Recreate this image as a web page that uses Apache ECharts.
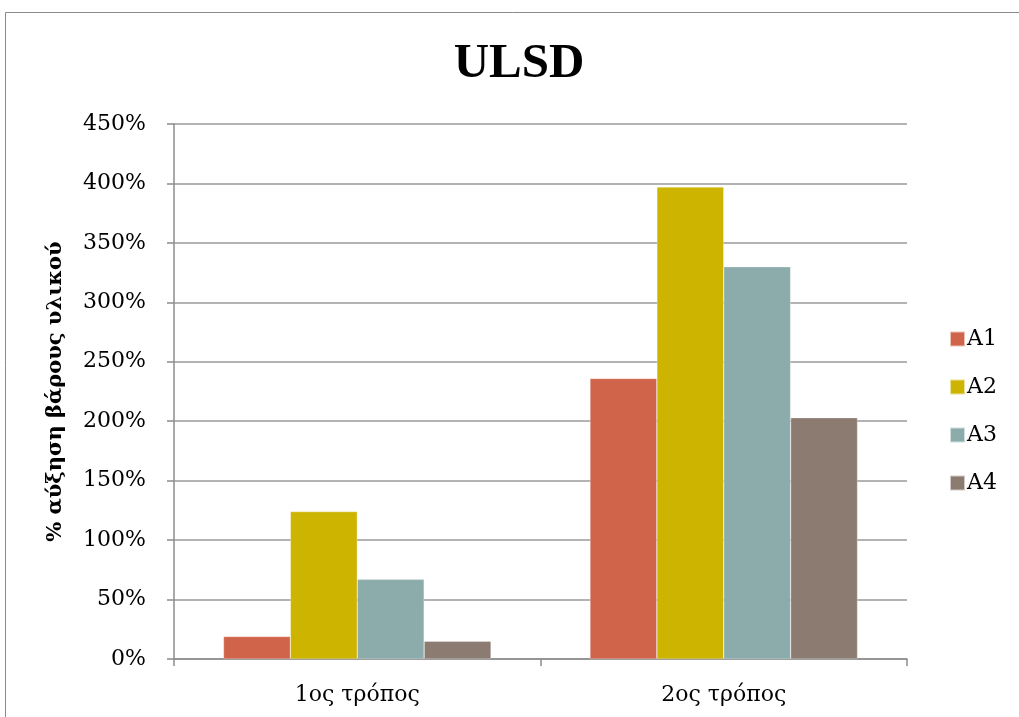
<!DOCTYPE html>
<html>
<head>
<meta charset="utf-8">
<script src="https://cdn.jsdelivr.net/npm/echarts@6/dist/echarts.min.js"></script>
<style>
  html, body { margin: 0; padding: 0; background: #fff; }
  #chart { width: 1019px; height: 717px; }
</style>
</head>
<body>
<div id="chart"></div>
<script>
// Weight increase of the material (%) for each sample, per method
const categories = ['1ος τρόπος', '2ος τρόπος'];
const seriesNames = ['A1', 'A2', 'A3', 'A4'];
const valuesA1 = [19, 236];
const valuesA2 = [124, 397];
const valuesA3 = [67, 330];
const valuesA4 = [15, 203];
const yTicks = [0, 50, 100, 150, 200, 250, 300, 350, 400, 450];

const colors = ['#D0644A', '#CDB400', '#8CACAC', '#8C7B70'];
const serif = 'DejaVu Serif';
const seriesValues = [valuesA1, valuesA2, valuesA3, valuesA4];

const chart = echarts.init(document.getElementById('chart'));
chart.setOption({
  animation: false,
  color: colors,
  graphic: [{
    type: 'rect',
    shape: { x: 5.5, y: 12.5, width: 1100, height: 800 },
    style: { fill: 'none', stroke: '#8a8a8a', lineWidth: 1 },
    silent: true
  }, {
    // chart title, centred over the plot
    type: 'text',
    x: 519,
    y: 64,
    style: {
      text: 'ULSD',
      textAlign: 'center',
      textVerticalAlign: 'middle',
      fill: '#000',
      font: 'bold 49px "Liberation Serif"'
    }
  }],
  legend: {
    orient: 'vertical',
    left: 949,
    top: 328,
    padding: 0,
    itemWidth: 15,
    itemHeight: 15,
    itemGap: 26,
    icon: 'rect',
    data: seriesNames,
    textStyle: { fontFamily: serif, fontSize: 22, lineHeight: 20, color: '#000', padding: [0, 0, 0, -3] }
  },
  grid: { left: 174, right: 112, top: 124, bottom: 58, containLabel: false },
  xAxis: {
    type: 'category',
    data: categories,
    axisLine: { lineStyle: { color: '#8c8c8c', width: 1.5 } },
    axisTick: { show: true, length: 7, lineStyle: { color: '#8c8c8c', width: 1.5 } },
    axisLabel: { fontFamily: serif, fontSize: 22, color: '#000', margin: 25 }
  },
  yAxis: {
    type: 'value',
    min: yTicks[0],
    max: yTicks[yTicks.length - 1],
    interval: 50,
    name: '% αύξηση βάρους υλικού',
    nameLocation: 'middle',
    nameGap: 108,
    nameTextStyle: { fontFamily: serif, fontWeight: 'bold', fontSize: 21, color: '#000' },
    axisLine: { show: true, lineStyle: { color: '#8c8c8c', width: 1.5 } },
    axisTick: { show: true, inside: false, length: 7, lineStyle: { color: '#8c8c8c', width: 1.5 } },
    axisLabel: { formatter: '{value}%', fontFamily: serif, fontSize: 22, color: '#000', margin: 28 },
    splitLine: { lineStyle: { color: '#9a9a9a', width: 1.5 } }
  },
  series: seriesNames.map((name, i) => ({
    name: name,
    type: 'bar',
    data: seriesValues[i],
    barGap: '0%',
    barCategoryGap: '27%',
    itemStyle: { color: colors[i], borderColor: 'rgba(255,255,255,0.6)', borderWidth: 0.5 }
  }))
});
</script>
</body>
</html>
